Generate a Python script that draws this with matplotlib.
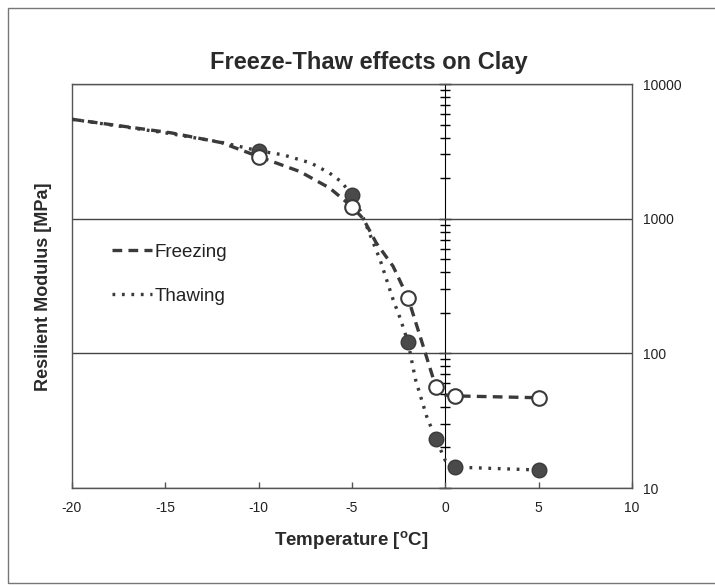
import matplotlib
matplotlib.use("Agg")
import matplotlib.pyplot as plt
from matplotlib.patches import Rectangle
from matplotlib.ticker import NullFormatter

plt.rcParams['font.family'] = ['Liberation Sans', 'DejaVu Sans']
plt.rcParams['axes.unicode_minus'] = False
plt.rcParams['lines.scale_dashes'] = False

# fitted curves (temperature in C, modulus in MPa)
freeze_t = [-20, -14.7, -12, -10, -7.8, -6.2, -5, -4.4, -3.7, -2.8, -2, -1.3, -0.8, -0.5, 0, 0.5, 5]
freeze_m = [5470, 4340, 3670, 2890, 2240, 1690, 1227, 1000, 660, 443, 258, 127, 76, 56, 49, 48.3, 46.8]
thaw_t = [-20, -15, -12, -10, -8.7, -7.2, -6.2, -5.6, -5, -4.5, -3.5, -2.8, -2.4, -2, -1.6, -1, -0.5, 0, 0.5, 5]
thaw_m = [5470, 4340, 3690, 3190, 2980, 2590, 2180, 1890, 1510, 1100, 497, 251, 179, 121, 64, 34, 23, 16, 14.3, 13.6]

# measured points
meas_t = [-10, -5, -2, -0.5, 0.5, 5]
open_m = [2890, 1227, 258, 56, 48.3, 46.8]
filled_m = [3190, 1510, 121, 23, 14.3, 13.6]

xticks = [-20, -15, -10, -5, 0, 5, 10]
xlabels = ["-20", "-15", "-10", "-5", "0", "5", "10"]
yticks = [10, 100, 1000, 10000]
ylabels = ["10", "100", "1000", "10000"]

fig = plt.figure(figsize=(7.15, 5.85), dpi=100)
ax = fig.add_axes([72 / 715, 97 / 585, 560 / 715, 404 / 585])

line_c = '#3a3a3a'
ax.plot(freeze_t, freeze_m, color=line_c, lw=2.4, ls=(0, (7, 4.5)), label='Freezing', zorder=3)
ax.plot(thaw_t, thaw_m, color=line_c, lw=2.4, ls=(0, (2, 4.8)), label='Thawing', zorder=3)
ax.plot(meas_t, filled_m, 'o', ms=10.5, mfc='#4a4a4a', mec='#3a3a3a', mew=1, zorder=4)
ax.plot(meas_t, open_m, 'o', ms=10.5, mfc='white', mec='#3a3a3a', mew=1.5, zorder=4)

ax.set_yscale('log')
ax.set_xlim(-20, 10)
ax.set_ylim(10, 10000)

ax.set_xticks(xticks)
ax.set_xticklabels(xlabels)
ax.tick_params(axis='x', direction='in', length=4, width=1, color='#555', pad=9,
               labelsize=10, labelcolor='#222')

ax.yaxis.tick_right()
ax.set_yticks(yticks)
ax.set_yticklabels(ylabels)
ax.yaxis.set_minor_formatter(NullFormatter())
ax.tick_params(axis='y', which='both', length=0, pad=8, labelsize=10, labelcolor='#222')

ax.yaxis.grid(True, which='major', color='#444', lw=1)
for s in ax.spines.values():
    s.set_color('#555')
    s.set_linewidth(1)

# vertical axis through 0 C with log ticks
sec = ax.secondary_yaxis(20 / 30)
sec.spines['left'].set_color('black')
sec.spines['left'].set_linewidth(1.4)
sec.tick_params(which='both', direction='inout', color='black', labelleft=False, labelright=False)
sec.tick_params(which='major', length=9, width=1)
sec.tick_params(which='minor', length=7, width=1)
sec.yaxis.set_major_formatter(NullFormatter())
sec.yaxis.set_minor_formatter(NullFormatter())

leg = ax.legend(loc='upper left', bbox_to_anchor=(0.072, 0.605), frameon=False,
                fontsize=13.5, handlelength=2.1, handletextpad=0.15, labelspacing=1.45,
                borderpad=0, borderaxespad=0)
for t in leg.get_texts():
    t.set_color('#222')

fig.text(369 / 715, 1 - 62 / 585, 'Freeze-Thaw effects on Clay', ha='center', va='center',
         fontsize=17, fontweight='bold', color='#2a2a2a')
fig.text(351 / 715, 1 - 541 / 585, 'Temperature [$^{\\mathregular{o}}$C]', ha='center', va='center',
         fontsize=13.5, fontweight='bold', color='#2a2a2a')
fig.text(44 / 715, 1 - 287 / 585, 'Resilient Modulus [MPa]', ha='center', va='center',
         rotation=90, fontsize=13, fontweight='bold', color='#2a2a2a')

fig.patches.append(Rectangle((8 / 715, 2 / 585), 1.0, 575 / 585, transform=fig.transFigure,
                             fill=False, edgecolor='#777', lw=1))

fig.savefig('out.png', dpi=100)
